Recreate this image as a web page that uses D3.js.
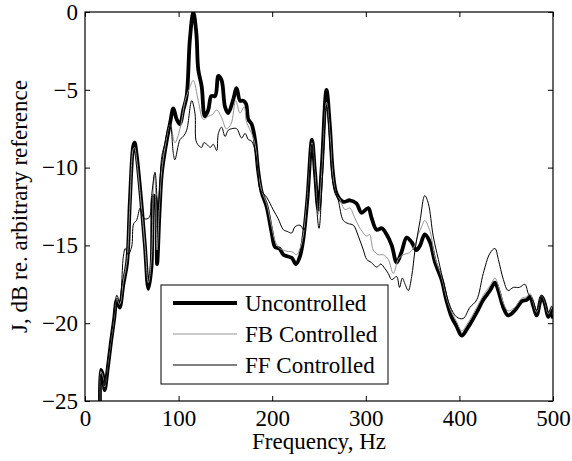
<!DOCTYPE html>
<html>
<head>
<meta charset="utf-8">
<script src="https://cdn.jsdelivr.net/npm/d3@7/dist/d3.min.js"></script>
<style>
  body { margin: 0; background: #fff; }
  svg { display: block; }
  text { font-family: "Liberation Serif", "Times New Roman", "DejaVu Serif", serif; }
</style>
</head>
<body>
<svg id="chart" width="572" height="461"></svg>
<script>
// ---- data (frequency Hz, level dB) ----
const xTicks = [0, 100, 200, 300, 400, 500];
const yTicks = [0, -5, -10, -15, -20, -25];
const seriesNames = ["Uncontrolled", "FB Controlled", "FF Controlled"];

const uncontrolled = [
[16,-25.2],[17,-23.0],[19,-23.3],[21,-24.3],[24.5,-22.8],[28,-21.1],[31,-19.8],[34,-18.5],[37,-19.0],[41,-17.5],[45,-16.1],[48,-12.1],[51.6,-8.6],[53,-8.4],[55,-9.1],[60,-12.1],[64,-15.0],[67.7,-17.8],[71,-16.4],[73.5,-11.8],[75,-11.9],[77,-16.2],[79.5,-13.0],[82,-10.4],[85.5,-8.9],[91,-7.1],[94.4,-6.2],[98,-6.9],[101.5,-7.2],[105,-6.3],[108.6,-5.4],[112,-1.8],[115.7,0],[119,-1.4],[121,-3.7],[124.7,-4.8],[128,-6.7],[131.7,-6.3],[135,-5.4],[139,-5.4],[142.5,-4.1],[146,-4.4],[149.6,-6.1],[153,-6.5],[158,-5.7],[162,-4.9],[165.6,-5.7],[169,-5.7],[172,-5.9],[174.5,-6.9],[178,-7.2],[181.6,-8.2],[185,-10.2],[188.8,-11.6],[194,-12.5],[199.5,-14.2],[203,-15.1],[207.6,-15.2],[212,-15.6],[216,-15.7],[220.8,-15.8],[225.4,-16.2],[229.7,-15.7],[233,-14.7],[237.5,-12.1],[242.5,-8.2],[245.7,-10.3],[249.3,-12.7],[253,-9.9],[258,-5.0],[261.7,-7.4],[265,-10.4],[269,-11.7],[276,-12.2],[283,-12.1],[290,-12.3],[295.4,-12.9],[302.7,-12.6],[306,-13.2],[311.6,-14.0],[317,-13.9],[322.3,-14.3],[327.7,-15.0],[333,-16.1],[338.3,-15.4],[343.6,-14.5],[349,-14.8],[354,-15.3],[358,-15.0],[363,-14.3],[368.6,-14.8],[374,-16.1],[381,-17.2],[386,-18.5],[391.7,-19.6],[397,-20.2],[402.5,-20.8],[407.8,-20.4],[411,-20.1],[418.5,-19.3],[425.5,-18.5],[432.7,-17.9],[438,-17.4],[441.6,-17.9],[447,-19.0],[452,-19.5],[459,-19.2],[466.5,-18.6],[471.9,-18.5],[475.4,-18.3],[479,-18.9],[482.5,-19.5],[488,-18.3],[491.5,-18.8],[495,-19.6],[498.6,-19.2],[500,-19.7]
];

const fbControlled = [
[16,-25.2],[17,-23.1],[19,-23.4],[21,-24.1],[24.5,-22.6],[28,-21.0],[31,-19.7],[34,-18.4],[37,-18.8],[41,-17.3],[45,-15.9],[48,-12.3],[51.6,-8.8],[53,-8.7],[55,-9.4],[60,-12.3],[64,-15.0],[67.7,-17.4],[71,-15.8],[73.7,-10.5],[75,-11.0],[77,-15.3],[79.5,-12.5],[82,-10.2],[85.5,-8.7],[91,-7.2],[96,-8.4],[101.5,-7.5],[107,-5.7],[111,-5.0],[115.7,-4.4],[121,-5.7],[126.4,-6.9],[131.7,-6.7],[136,-6.6],[140.7,-6.3],[146,-6.8],[151,-7.5],[156,-7.2],[161,-5.7],[165.6,-6.5],[170,-6.1],[172.7,-7.1],[178,-7.8],[182,-8.6],[185,-10.3],[188.8,-11.5],[194,-12.3],[199.5,-13.8],[203,-14.7],[208,-15.2],[212,-15.3],[217,-15.4],[221,-15.4],[226,-15.6],[229.7,-15.2],[233,-14.4],[237.5,-12.0],[242.5,-8.4],[245.7,-10.4],[249.3,-13.0],[253,-10.3],[258,-5.8],[261.7,-7.8],[265,-10.6],[269,-11.8],[272,-12.0],[277.8,-12.7],[283,-12.6],[288,-13.2],[293.8,-13.9],[301,-14.4],[304,-14.3],[308,-15.3],[313.4,-15.6],[318.7,-15.6],[324,-15.9],[329.4,-16.8],[334.7,-15.9],[340,-15.6],[345.4,-15.5],[350.8,-15.2],[356,-14.3],[359.7,-13.8],[363,-13.4],[368.6,-14.1],[374,-15.8],[381,-17.0],[386,-18.3],[391.7,-19.3],[397,-19.9],[402.5,-20.5],[407.8,-20.1],[411,-19.8],[418.5,-19.0],[425.5,-18.2],[432.7,-17.6],[438,-17.1],[441.6,-17.6],[447,-18.7],[452,-19.2],[459,-19.0],[466.5,-18.4],[471.9,-18.3],[475.4,-18.1],[479,-18.7],[482.5,-19.3],[488,-18.2],[491.5,-18.7],[495,-19.4],[498.6,-19.0],[500,-19.5]
];

const ffControlled = [
[16,-25.2],[17,-23.3],[19,-23.6],[21,-24.0],[24.5,-22.4],[28,-20.8],[31,-19.5],[34,-18.2],[37,-18.6],[41,-15.7],[43,-15.2],[46,-15.6],[49.8,-15.1],[52,-13.6],[55,-13.4],[58.8,-12.6],[61,-13.0],[64,-13.3],[68.7,-13.2],[71,-11.9],[74.8,-10.3],[78,-12.7],[82,-9.3],[85.5,-8.4],[89,-7.4],[91,-7.2],[94.4,-9.1],[96,-9.5],[101.5,-8.2],[105,-8.0],[108.6,-7.6],[114,-5.7],[117.5,-6.5],[119.3,-8.4],[124.7,-8.7],[127,-8.4],[130,-8.5],[134,-8.7],[137,-8.5],[140.7,-8.9],[142.5,-7.8],[146,-7.4],[149.6,-8.0],[153,-7.6],[156.7,-7.5],[162,-7.5],[167.4,-8.1],[171,-7.8],[174.5,-8.2],[178,-8.3],[182,-9.0],[185,-10.4],[187,-11.4],[194,-11.9],[201,-12.7],[206.5,-13.3],[212,-14.0],[216,-14.1],[220.8,-14.2],[224.4,-13.8],[229.7,-13.7],[234,-14.0],[237.5,-12.4],[242.5,-8.5],[245.7,-11.0],[250,-13.9],[253.5,-10.8],[258,-6.0],[261.7,-8.5],[265,-11.0],[270.6,-12.1],[276,-13.4],[281.3,-13.6],[286.7,-13.7],[292,-14.4],[297.4,-15.3],[301,-15.9],[306,-16.1],[311.6,-16.4],[316,-16.2],[320.5,-16.5],[324,-16.8],[327.7,-17.2],[333,-17.0],[336,-17.7],[339,-17.1],[342,-17.5],[345.4,-17.9],[349,-17.0],[352.6,-15.3],[358,-13.4],[363,-11.8],[366.8,-12.3],[372,-14.4],[377.5,-15.9],[384,-17.6],[390,-18.9],[397,-19.6],[404,-19.7],[411,-19.0],[418.5,-18.5],[425.5,-16.8],[432.7,-15.5],[438,-15.2],[441.6,-15.9],[447,-17.2],[452,-17.9],[457.6,-17.7],[464,-17.7],[470,-17.5],[473.6,-18.1],[479,-18.6],[482.5,-19.2],[488,-18.2],[491.5,-18.6],[495,-19.3],[498.6,-18.9],[500,-19.3]
];

// ---- layout ----
const W = 572, H = 461;
const m = { left: 85, right: 19, top: 12, bottom: 60 };
const pw = W - m.left - m.right;   // 468
const ph = H - m.top - m.bottom;   // 389

const svg = d3.select("#chart");
const x = d3.scaleLinear().domain([0, 500]).range([m.left, m.left + pw]);
const y = d3.scaleLinear().domain([-25, 0]).range([m.top + ph, m.top]);

svg.append("defs").append("clipPath").attr("id", "clip")
  .append("rect").attr("x", m.left).attr("y", m.top).attr("width", pw).attr("height", ph);

const line = d3.line().x(d => x(d[0])).y(d => y(d[1])).curve(d3.curveCatmullRom.alpha(0.5));

const styles = [
  { data: uncontrolled, color: "#000", width: 3.8 },
  { data: fbControlled, color: "#939393", width: 1 },
  { data: ffControlled, color: "#000", width: 1 }
];

const g = svg.append("g").attr("clip-path", "url(#clip)");
styles.forEach(s => {
  g.append("path").datum(s.data).attr("d", line)
    .attr("fill", "none").attr("stroke", s.color).attr("stroke-width", s.width)
    .attr("stroke-linejoin", "round");
});

// ---- axes (MATLAB-style box with inward ticks) ----
const tickLen = 5;
const fs = 23;
const axB = svg.append("g").attr("transform", `translate(0,${m.top + ph})`)
  .call(d3.axisBottom(x).tickValues(xTicks).tickSizeInner(-tickLen).tickSizeOuter(0).tickPadding(10).tickFormat(d3.format("d")));
const axT = svg.append("g").attr("transform", `translate(0,${m.top})`)
  .call(d3.axisTop(x).tickValues(xTicks).tickSizeInner(-tickLen).tickSizeOuter(0).tickFormat(""));
const axL = svg.append("g").attr("transform", `translate(${m.left},0)`)
  .call(d3.axisLeft(y).tickValues(yTicks).tickSizeInner(-tickLen).tickSizeOuter(0).tickPadding(7)
    .tickFormat(d => d < 0 ? "\u2212" + Math.abs(d) : d));
const axR = svg.append("g").attr("transform", `translate(${m.left + pw},0)`)
  .call(d3.axisRight(y).tickValues(yTicks).tickSizeInner(-tickLen).tickSizeOuter(0).tickFormat(""));

[axB, axT, axL, axR].forEach(a => {
  a.attr("font-family", null);
  a.select(".domain").remove();
  a.selectAll("line").attr("stroke", "#000").attr("stroke-width", 1);
  a.selectAll("text").attr("font-size", fs).attr("fill", "#000");
});
axB.selectAll("text").attr("dy", "0.66em");

svg.append("rect").attr("x", m.left).attr("y", m.top).attr("width", pw).attr("height", ph)
  .attr("fill", "none").attr("stroke", "#000").attr("stroke-width", 1.2);

// ---- axis labels ----
svg.append("text").attr("x", m.left + pw / 2).attr("y", 449)
  .attr("text-anchor", "middle").attr("font-size", fs).text("Frequency, Hz");
svg.append("text").attr("transform", `translate(27,${m.top + ph / 2}) rotate(-90)`)
  .attr("text-anchor", "middle").attr("font-size", fs).text("J, dB re. arbitrary reference");

// ---- legend ----
const lg = svg.append("g");
lg.append("rect").attr("x", 161).attr("y", 285).attr("width", 227).attr("height", 99)
  .attr("fill", "#fff").attr("stroke", "#000").attr("stroke-width", 1);
const rowY = [303, 334, 365];
styles.forEach((s, i) => {
  lg.append("line").attr("x1", 173).attr("x2", 237).attr("y1", rowY[i]).attr("y2", rowY[i])
    .attr("stroke", s.color).attr("stroke-width", s.width);
  lg.append("text").attr("x", 245).attr("y", rowY[i]).attr("dy", "0.35em")
    .attr("font-size", fs).text(seriesNames[i]);
});
</script>
</body>
</html>
